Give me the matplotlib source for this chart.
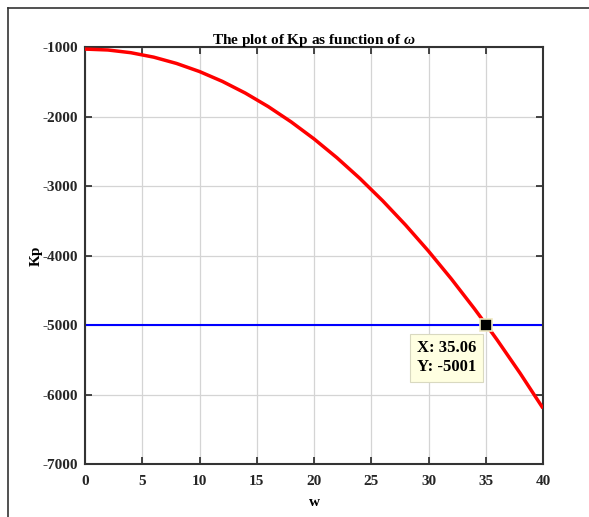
import matplotlib
matplotlib.use("Agg")
import matplotlib.pyplot as plt
from matplotlib.lines import Line2D

plt.rcParams["font.family"] = ["Liberation Serif", "DejaVu Serif"]
plt.rcParams["font.weight"] = "bold"
plt.rcParams["axes.unicode_minus"] = False
plt.rcParams["mathtext.fontset"] = "custom"
plt.rcParams["mathtext.it"] = "Liberation Serif:italic"
plt.rcParams["mathtext.rm"] = "Liberation Serif"

# Kp as a function of w
w = [0, 2, 4, 6, 8, 10, 12, 14, 16, 18, 20, 22, 24, 26, 28, 30, 32, 34,
     35.06, 36, 38, 40]
kp = [-1030, -1043, -1082, -1146, -1237, -1353, -1495, -1663, -1857, -2077,
      -2322, -2593, -2890, -3213, -3562, -3937, -4338, -4764,
      -5001, -5216, -5694, -6198]

# target level and the picked crossing point
kp_target = -5000
tip_x = 35.06
tip_y = -5001

x_ticks = [0, 5, 10, 15, 20, 25, 30, 35, 40]
y_ticks = [-7000, -6000, -5000, -4000, -3000, -2000, -1000]

fig = plt.figure(figsize=(5.89, 5.17), dpi=100)
fig.patch.set_facecolor("white")

# thin frame along the top and left of the figure
fig.add_artist(Line2D([8 / 589, 1.0], [1 - 8 / 517, 1 - 8 / 517],
                      transform=fig.transFigure, color="#333333", lw=1.2))
fig.add_artist(Line2D([8 / 589, 8 / 589], [0.0, 1 - 8 / 517],
                      transform=fig.transFigure, color="#333333", lw=1.2))

ax = fig.add_axes([85 / 589, 1 - 464 / 517, 458 / 589, 417 / 517])

ax.plot(w, kp, color="#ff0000", lw=2.5, zorder=3, solid_capstyle="butt")
ax.axhline(kp_target, color="#0000ff", lw=1.5, zorder=2)
ax.plot([tip_x], [tip_y], marker="s", markersize=9, color="black",
        markeredgecolor="#efe8c0", markeredgewidth=1.2, zorder=5,
        linestyle="none")

ax.annotate(f"X: {tip_x:.2f}\nY: {tip_y}", xy=(tip_x, tip_y),
            xytext=(-50, -11), textcoords="offset points",
            ha="left", va="top", fontsize=12, fontweight="bold",
            linespacing=1.25,
            bbox=dict(boxstyle="square,pad=0.4", fc="#ffffe1",
                      ec="#d9d9c0", lw=0.8), zorder=6)

ax.set_xlim(0, 40)
ax.set_ylim(-7000, -1000)
ax.set_xticks(x_ticks)
ax.set_yticks(y_ticks)
ax.grid(True, color="#d4d4d4", lw=0.9)
ax.set_axisbelow(True)
ax.tick_params(direction="in", top=True, right=True, length=5, width=1.2,
               labelsize=11, colors="#262626", pad=5)
ax.tick_params(axis="x", pad=8)
for lab in ax.get_xticklabels() + ax.get_yticklabels():
    lab.set_fontweight("bold")
for sp in ax.spines.values():
    sp.set_linewidth(1.5)
    sp.set_color("#333333")

ax.set_title(r"The plot of Kp as function of $\omega$", fontsize=11,
             fontweight="bold", pad=2)
ax.set_xlabel("w", fontsize=11, fontweight="bold", labelpad=6)
ax.set_ylabel("Kp", fontsize=11, fontweight="bold", labelpad=0)

fig.savefig("out.png", dpi=100, facecolor="white")
